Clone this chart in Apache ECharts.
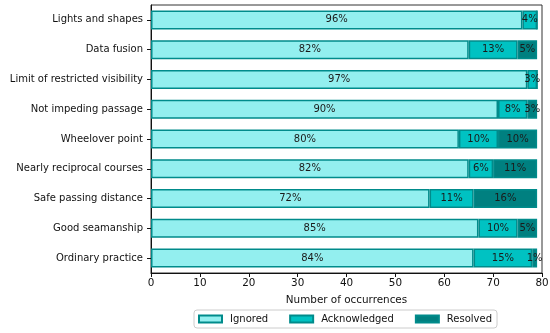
<!DOCTYPE html>
<html>
<head>
<meta charset="utf-8">
<script src="https://cdn.jsdelivr.net/npm/echarts@6/dist/echarts.min.js"></script>
<style>html,body{margin:0;padding:0;background:#fff}#c{width:550px;height:333px}</style>
</head>
<body>
<div id="c"></div>
<script>
const categories = ["Lights and shapes","Data fusion","Limit of restricted visibility","Not impeding passage","Wheelover point","Nearly reciprocal courses","Safe passing distance","Good seamanship","Ordinary practice"];
const ignored = [76, 65, 77, 71, 63, 65, 57, 67, 66];
const acknowledged = [3, 10, 2, 6, 8, 5, 9, 8, 12];
const resolved = [0, 4, 0, 2, 8, 9, 13, 4, 1];
const xTicks = [0, 10, 20, 30, 40, 50, 60, 70, 80];

const totals = categories.map((c, i) => ignored[i] + acknowledged[i] + resolved[i]);
const font = 'DejaVu Sans';

function mk(name, data, color) {
  return {
    name: name, type: 'bar', stack: 'all', data: data, barWidth: 19,
    itemStyle: { color: color, borderColor: '#008b8b', borderWidth: 1.5 },
    label: {
      show: true, position: 'inside', color: '#1a1a1a', fontFamily: font, fontSize: 10,
      formatter: p => p.value > 0 ? Math.round(p.value / totals[p.dataIndex] * 100) + '%' : ''
    },
    emphasis: { disabled: true }
  };
}

const chart = echarts.init(document.getElementById('c'), null, { renderer: 'canvas' });
chart.setOption({
  animation: false,
  textStyle: { fontFamily: font },
  grid: { left: 151, right: 8, top: 5, bottom: 60, show: true, borderColor: '#333', borderWidth: 1,
          containLabel: false, outerBoundsMode: 'none' },
  xAxis: {
    type: 'value', min: xTicks[0], max: xTicks[xTicks.length - 1], interval: 10,
    name: 'Number of occurrences', nameLocation: 'middle', nameGap: 22,
    nameTextStyle: { fontFamily: font, fontSize: 10.4, color: '#111' },
    axisLine: { show: true, lineStyle: { color: '#111', width: 1 } },
    axisTick: { show: true, length: 4, lineStyle: { color: '#111' } },
    axisLabel: { fontFamily: font, fontSize: 10.4, color: '#111', margin: 5 },
    splitLine: { show: false }
  },
  yAxis: {
    type: 'category', data: categories, inverse: true,
    axisLine: { show: true, lineStyle: { color: '#111', width: 1 } },
    axisTick: { show: true, alignWithLabel: true, length: 4, lineStyle: { color: '#111' } },
    axisLabel: { fontFamily: font, fontSize: 10, color: '#111', margin: 8 }
  },
  legend: {
    bottom: 5, left: 194, itemWidth: 23, itemHeight: 7, itemGap: 21,
    icon: 'rect',
    borderColor: '#ccc', borderWidth: 1, borderRadius: 3, padding: [4, 5, 4, 4],
    textStyle: { fontFamily: font, fontSize: 10, color: '#111', padding: [0, 0, 0, 3] },
    data: ['Ignored', 'Acknowledged', 'Resolved']
  },
  series: [
    mk('Ignored', ignored, '#93efef'),
    mk('Acknowledged', acknowledged, '#00c2c2'),
    mk('Resolved', resolved, '#008080')
  ]
});
</script>
</body>
</html>
